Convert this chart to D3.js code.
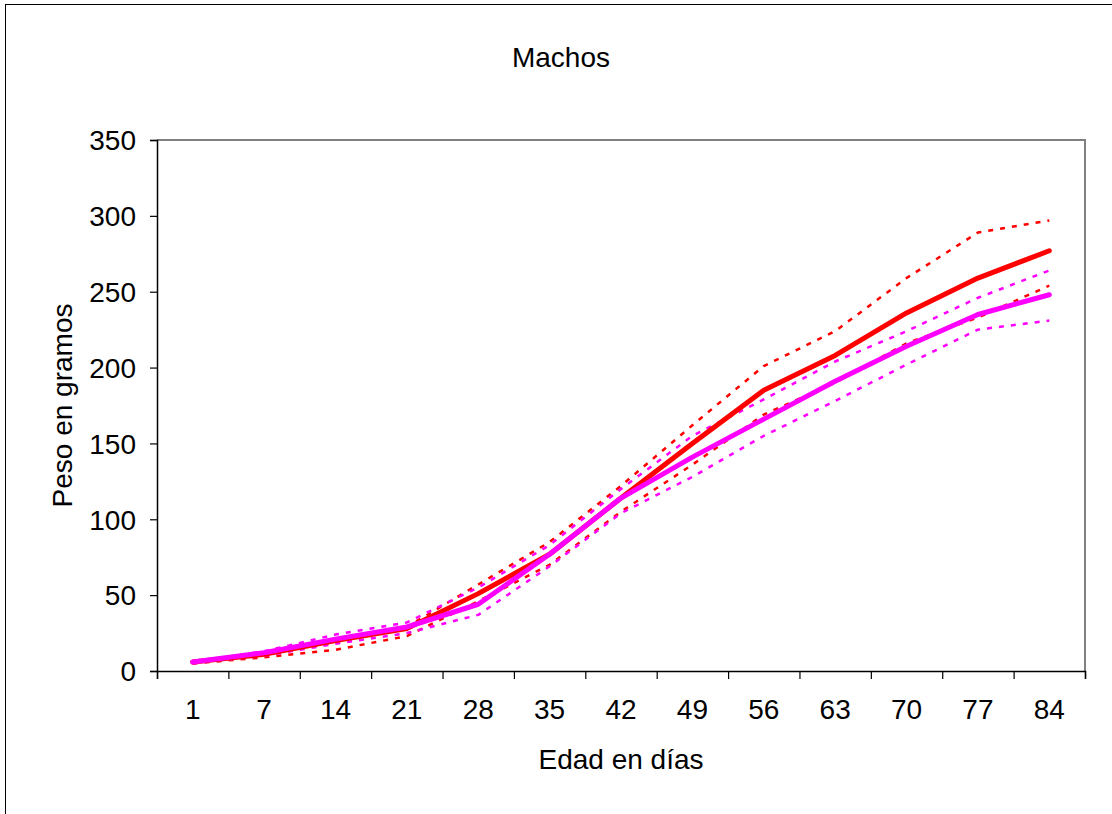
<!DOCTYPE html>
<html>
<head>
<meta charset="utf-8">
<script src="https://cdn.jsdelivr.net/npm/d3@7"></script>
<style>
  body { margin: 0; background: #fff; }
  text { font-family: Arial, "Liberation Sans", sans-serif; fill: #000; }
</style>
</head>
<body>
<script>
// data
var days = ["1", "7", "14", "21", "28", "35", "42", "49", "56", "63", "70", "77", "84"];
var rojoMedia    = [6, 11, 20, 28, 51, 77, 114, 150, 185, 208, 236, 259, 277];
var rojoSup      = [6, 12, 19, 29, 57, 85, 122, 162, 201, 224, 259, 289, 297];
var rojoInf      = [5, 9, 14, 23, 46, 70, 105, 136, 169, 190, 216, 233, 254];
var magentaMedia = [6, 12, 21, 29, 44, 77, 114, 141, 166, 191, 214, 235, 248];
var magentaSup   = [6, 13, 24, 32, 55, 83, 120, 155, 179, 204, 224, 246, 264];
var magentaInf   = [5, 10, 18, 25, 37, 69, 104, 128, 155, 178, 202, 225, 231];
var yTicks = [0, 50, 100, 150, 200, 250, 300, 350];

var W = 1112, H = 814;
var plot = {left: 157, right: 1085, top: 140, bottom: 671};

var svg = d3.select("body").append("svg")
    .attr("width", W)
    .attr("height", H);

// outer chart frame
svg.append("rect")
    .attr("x", 5.5).attr("y", 4.5)
    .attr("width", W + 10).attr("height", H + 10)
    .attr("fill", "#fff")
    .attr("stroke", "#000")
    .attr("stroke-width", 1);

var x = d3.scaleBand().domain(days).range([plot.left, plot.right]).padding(0);
var xb = d3.scaleLinear().domain([0, days.length]).range([plot.left, plot.right]);
var y = d3.scaleLinear().domain([0, 350]).range([plot.bottom, plot.top]);

// plot area border (top/right gray)
svg.append("path")
    .attr("d", "M" + plot.left + "," + plot.top + "H" + plot.right + "V" + plot.bottom)
    .attr("fill", "none")
    .attr("stroke", "#808080")
    .attr("stroke-width", 2);

// y axis
var yAxis = svg.append("g")
    .attr("transform", "translate(" + plot.left + ",0)")
    .call(d3.axisLeft(y).tickValues(yTicks).tickSize(7).tickPadding(14));
yAxis.select(".domain").attr("stroke", "#000").attr("stroke-width", 1.5);
yAxis.selectAll(".tick line").attr("stroke", "#000").attr("stroke-width", 1.2);
yAxis.selectAll("text").style("font-size", "28px").attr("dy", "0.35em");

// x axis ticks on category boundaries
var xTickAxis = svg.append("g")
    .attr("transform", "translate(0," + plot.bottom + ")")
    .call(d3.axisBottom(xb).tickValues(d3.range(days.length + 1)).tickSize(8).tickFormat(""));
xTickAxis.select(".domain").attr("stroke", "#000").attr("stroke-width", 1.5);
xTickAxis.selectAll(".tick line").attr("stroke", "#000").attr("stroke-width", 1.2);

// x labels
var xLab = svg.append("g")
    .attr("transform", "translate(0," + plot.bottom + ")")
    .call(d3.axisBottom(x).tickSize(0).tickPadding(28));
xLab.select(".domain").remove();
xLab.selectAll("text").style("font-size", "28px");

// lines
var line = d3.line()
    .x(function(d, i) { return x(days[i]) + x.bandwidth() / 2; })
    .y(function(d) { return y(d); });

var series = [
  {v: rojoSup, c: "#ff0000", dash: true},
  {v: rojoInf, c: "#ff0000", dash: true},
  {v: magentaSup, c: "#ff00ff", dash: true},
  {v: magentaInf, c: "#ff00ff", dash: true},
  {v: rojoMedia, c: "#ff0000", dash: false},
  {v: magentaMedia, c: "#ff00ff", dash: false}
];

svg.selectAll(".serie")
    .data(series)
  .enter().append("path")
    .attr("class", "serie")
    .attr("d", function(s) { return line(s.v); })
    .attr("fill", "none")
    .attr("stroke", function(s) { return s.c; })
    .attr("stroke-width", function(s) { return s.dash ? 2.5 : 5; })
    .attr("stroke-dasharray", function(s) { return s.dash ? "5,7" : null; })
    .attr("stroke-linecap", function(s) { return s.dash ? "butt" : "round"; })
    .attr("stroke-linejoin", "round");

// titles
svg.append("text")
    .attr("x", 561).attr("y", 57)
    .attr("text-anchor", "middle")
    .attr("dy", "0.35em")
    .style("font-size", "28px")
    .text("Machos");

svg.append("text")
    .attr("x", (plot.left + plot.right) / 2).attr("y", 759)
    .attr("text-anchor", "middle")
    .attr("dy", "0.35em")
    .style("font-size", "28px")
    .text("Edad en días");

svg.append("text")
    .attr("transform", "translate(62," + (plot.top + plot.bottom) / 2 + ") rotate(-90)")
    .attr("text-anchor", "middle")
    .attr("dy", "0.35em")
    .style("font-size", "28px")
    .text("Peso en gramos");
</script>
</body>
</html>
